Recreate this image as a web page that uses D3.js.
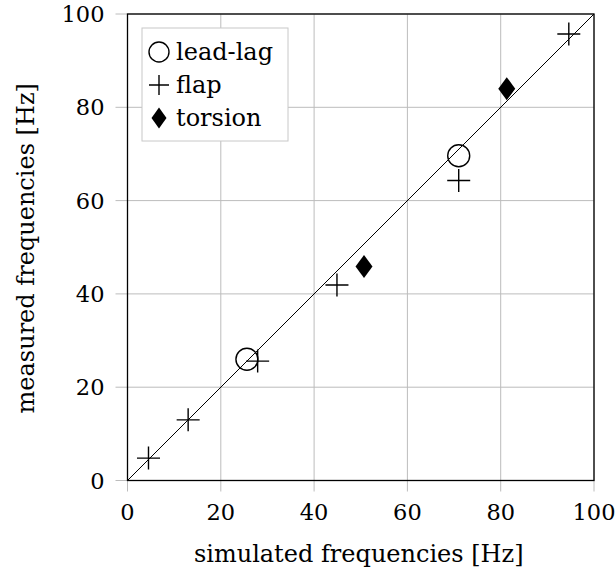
<!DOCTYPE html>
<html>
<head>
<meta charset="utf-8">
<script src="https://cdn.jsdelivr.net/npm/d3@7"></script>
<style>
  body { margin: 0; background: #fff; }
</style>
</head>
<body>
<div id="chart"></div>
<script>
// series: [simulated, measured]
var leadLag = [[25.6, 26.0], [71.0, 69.6]]
var flap = [[4.5, 4.8], [13.0, 13.0], [27.9, 25.6], [44.9, 41.9], [71.0, 64.3], [94.6, 95.7]]
var torsion = [[50.7, 45.9], [81.3, 84.0]]
var ticks = [0, 20, 40, 60, 80, 100]
var legendNames = ['lead-lag', 'flap', 'torsion']

var width = 616, height = 574,
	margins = {top: 14, right: 22, bottom: 93.5, left: 127.5},
	w = width - margins.left - margins.right,
	h = height - margins.top - margins.bottom,
	fontSize = '24px',
	tickSize = '22.5px'

var svg = d3.select('#chart').append('svg')
	.attr('width', width)
	.attr('height', height)
	.attr('font-family', "'DejaVu Serif', 'Liberation Serif', serif")

var g = svg.append('g')
	.attr('transform', 'translate(' + margins.left + ',' + margins.top + ')')

var x = d3.scaleLinear().domain([0, 100]).range([0, w])
var y = d3.scaleLinear().domain([0, 100]).range([h, 0])

// grid + outward ticks
g.selectAll('.gx').data(ticks).enter().append('line')
	.attr('x1', d => x(d)).attr('x2', d => x(d))
	.attr('y1', 0).attr('y2', h + 11)
	.attr('stroke', '#bcbcbc').attr('stroke-width', 1)
g.selectAll('.gy').data(ticks).enter().append('line')
	.attr('y1', d => y(d)).attr('y2', d => y(d))
	.attr('x1', -12).attr('x2', w)
	.attr('stroke', '#bcbcbc').attr('stroke-width', 1)

// tick labels
g.selectAll('.tx').data(ticks).enter().append('text')
	.attr('x', d => x(d)).attr('y', h + 39.5)
	.attr('text-anchor', 'middle')
	.attr('font-size', tickSize)
	.text(d => d)
g.selectAll('.ty').data(ticks).enter().append('text')
	.attr('x', -23).attr('y', d => y(d) + 8)
	.attr('text-anchor', 'end')
	.attr('font-size', tickSize)
	.text(d => d)

// frame
g.append('rect')
	.attr('width', w).attr('height', h)
	.attr('fill', 'none').attr('stroke', '#000').attr('stroke-width', 1.3)

// diagonal
g.append('line')
	.attr('x1', x(0)).attr('y1', y(0))
	.attr('x2', x(100)).attr('y2', y(100))
	.attr('stroke', '#000').attr('stroke-width', 1)

function plus(sel, s) {
	sel.append('path')
		.attr('d', 'M' + (-s) + ',0H' + s + 'M0,' + (-s) + 'V' + s)
		.attr('stroke', '#000').attr('stroke-width', 1.4).attr('fill', 'none')
}
function circ(sel, r) {
	sel.append('circle').attr('r', r)
		.attr('fill', 'none').attr('stroke', '#000').attr('stroke-width', 1.4)
}
function diamond(sel, a, b) {
	sel.append('path')
		.attr('d', 'M0,' + (-b) + 'L' + a + ',0L0,' + b + 'L' + (-a) + ',0Z')
		.attr('fill', '#000')
}

g.selectAll('.ll').data(leadLag).enter().append('g')
	.attr('transform', d => 'translate(' + x(d[0]) + ',' + y(d[1]) + ')')
	.call(circ, 11)
g.selectAll('.fl').data(flap).enter().append('g')
	.attr('transform', d => 'translate(' + x(d[0]) + ',' + y(d[1]) + ')')
	.call(plus, 11.5)
g.selectAll('.to').data(torsion).enter().append('g')
	.attr('transform', d => 'translate(' + x(d[0]) + ',' + y(d[1]) + ')')
	.call(diamond, 8.5, 11.5)

// axis labels
svg.append('text')
	.attr('x', margins.left + w / 2 - 2).attr('y', 562)
	.attr('text-anchor', 'middle')
	.attr('font-size', fontSize)
	.text('simulated frequencies [Hz]')
svg.append('text')
	.attr('transform', 'translate(34,' + (margins.top + h / 2 + 1) + ') rotate(-90)')
	.attr('text-anchor', 'middle')
	.attr('font-size', fontSize)
	.text('measured frequencies [Hz]')

// legend
var lg = svg.append('g').attr('transform', 'translate(142,28)')
lg.append('rect')
	.attr('width', 146).attr('height', 113)
	.attr('fill', '#fff').attr('stroke', '#c8c8c8').attr('stroke-width', 1)
var rows = lg.selectAll('.row').data(legendNames).enter().append('g')
	.attr('transform', (d, i) => 'translate(17,' + (24 + i * 33) + ')')
rows.filter((d, i) => i === 0).call(circ, 10)
rows.filter((d, i) => i === 1).call(plus, 10)
rows.filter((d, i) => i === 2).call(diamond, 7.5, 10.5)
rows.append('text')
	.attr('x', 17).attr('y', 8)
	.attr('font-size', fontSize)
	.text(d => d)
</script>
</body>
</html>
